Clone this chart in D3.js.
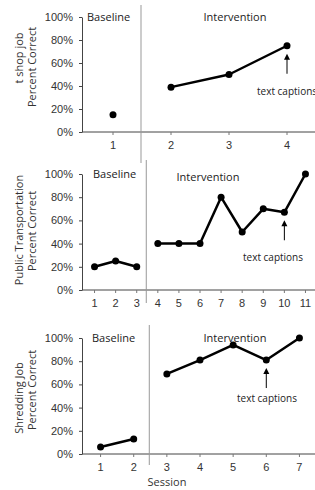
<!DOCTYPE html>
<html>
<head>
<meta charset="utf-8">
<script src="https://cdn.jsdelivr.net/npm/d3@7"></script>
<style>
  body { margin: 0; background: #fff; }
  svg { display: block; font-family: "Open Sans", sans-serif; }
</style>
</head>
<body>
<svg width="315" height="490"></svg>
<script>
// data
const yTicks = [0, 20, 40, 60, 80, 100];

const thriftSessions = [1, 2, 3, 4];
const thriftBaseline = [15];
const thriftIntervention = [39, 50, 75];

const transportSessions = [1, 2, 3, 4, 5, 6, 7, 8, 9, 10, 11];
const transportBaseline = [20, 25, 20];
const transportIntervention = [40, 40, 40, 80, 50, 70, 67, 100];

const shredSessions = [1, 2, 3, 4, 5, 6, 7];
const shredBaseline = [6, 13];
const shredIntervention = [69, 81, 94, 81, 100];

const phaseLabels = ["Baseline", "Intervention"];
const captionText = "text captions";

const svg = d3.select("svg");

const panels = [
  { title: ["t shop job", "Percent Correct"], sessions: thriftSessions,
    base: thriftBaseline, inter: thriftIntervention, caption: 4,
    top: 17, bottom: 132, lineTop: 5, lineBottom: 163, titleY: 58, titleY2: 67,
    labelY: [21, 21], baseX: 87, interX: 235, capPos: [257, 95, "start"] },
  { title: ["Public Transportation", "Percent Correct"], sessions: transportSessions,
    base: transportBaseline, inter: transportIntervention, caption: 10,
    top: 174, bottom: 290, lineTop: 160, lineBottom: 303, titleY: 230, titleY2: 231,
    labelY: [178, 181], baseX: 93, interX: 208, capPos: [273, 261, "middle"] },
  { title: ["Shredding Job", "Percent Correct"], sessions: shredSessions,
    base: shredBaseline, inter: shredIntervention, caption: 6,
    top: 338, bottom: 454, lineTop: 325, lineBottom: 465, titleY: 398, titleY2: 390,
    labelY: [342, 342], baseX: 92, interX: 235, capPos: [267, 402, "middle"] }
];

const axisLeftX = 82;

panels.forEach((p, idx) => {
  const x = d3.scaleBand().domain(p.sessions).range([84, 316]).paddingInner(0);
  const y = d3.scaleLinear().domain([0, 100]).range([p.bottom, p.top]);
  const cx = d => x(d) + x.bandwidth() / 2;

  const g = svg.append("g");

  // y axis
  const ya = g.append("g")
    .attr("transform", `translate(${axisLeftX},0)`)
    .call(d3.axisLeft(y).tickValues(yTicks).tickFormat(d => d + "%").tickSize(3).tickSizeOuter(0));
  ya.select(".domain").attr("stroke", "#444");
  ya.selectAll(".tick line").attr("stroke", "#444");
  ya.selectAll(".tick text").attr("fill", "#333").style("font-size", "11px").attr("x", -9);

  // x axis
  const xa = g.append("g")
    .attr("transform", `translate(0,${p.bottom})`)
    .call(d3.axisBottom(x).tickSize(3).tickSizeOuter(0));
  xa.select(".domain").attr("stroke", "#444").attr("d", `M${axisLeftX},0H316`);
  xa.selectAll(".tick line").attr("stroke", "#777");
  xa.selectAll(".tick text").attr("fill", "#333").style("font-size", "11px").attr("y", 9);

  if (idx === 2) {
    g.append("text").attr("x", 167).attr("y", 486)
      .attr("text-anchor", "middle").attr("fill", "#333").style("font-size", "11px")
      .text("Session");
  }

  // phase change line
  const firstInter = p.sessions[p.base.length];
  const phaseX = x(firstInter) - 1;
  g.append("line")
    .attr("x1", phaseX).attr("x2", phaseX)
    .attr("y1", p.lineTop).attr("y2", p.lineBottom)
    .attr("stroke", "#999").attr("stroke-width", 1);

  // phase labels
  g.append("text").attr("x", p.baseX).attr("y", p.labelY[0])
    .attr("fill", "#222").style("font-size", "11px").text(phaseLabels[0]);
  g.append("text").attr("x", p.interX).attr("y", p.labelY[1])
    .attr("text-anchor", "middle").attr("fill", "#222").style("font-size", "11px").text(phaseLabels[1]);

  // y title
  g.append("text")
    .attr("transform", `translate(23,${p.titleY}) rotate(-90)`)
    .attr("text-anchor", "middle").attr("fill", "#333").style("font-size", "11px")
    .text(p.title[0]);
  g.append("text")
    .attr("transform", `translate(36,${p.titleY2}) rotate(-90)`)
    .attr("text-anchor", "middle").attr("fill", "#333").style("font-size", "11px")
    .text(p.title[1]);

  // data
  const baseData = p.base.map((v, i) => ({ s: p.sessions[i], v }));
  const interData = p.inter.map((v, i) => ({ s: p.sessions[p.base.length + i], v }));
  const line = d3.line().x(d => cx(d.s)).y(d => y(d.v));

  [baseData, interData].forEach(data => {
    g.append("path").datum(data)
      .attr("d", line).attr("fill", "none")
      .attr("stroke", "#000").attr("stroke-width", 2.5).attr("stroke-linejoin", "round");
    g.selectAll(null).data(data).enter().append("circle")
      .attr("cx", d => cx(d.s)).attr("cy", d => y(d.v)).attr("r", 3.5).attr("fill", "#000");
  });

  // caption arrow
  const capVal = interData.find(d => d.s === p.caption).v;
  const ax = cx(p.caption);
  const tipY = y(capVal) + 8;
  g.append("line")
    .attr("x1", ax).attr("x2", ax).attr("y1", tipY + 5).attr("y2", tipY + 20)
    .attr("stroke", "#000").attr("stroke-width", 1);
  g.append("path")
    .attr("d", `M${ax},${tipY}L${ax - 3},${tipY + 6}L${ax + 3},${tipY + 6}Z`)
    .attr("fill", "#000");

  g.append("text")
    .attr("x", p.capPos[0]).attr("y", p.capPos[1])
    .attr("text-anchor", p.capPos[2]).attr("fill", "#222").style("font-size", "10px")
    .text(captionText);
});
</script>
</body>
</html>
